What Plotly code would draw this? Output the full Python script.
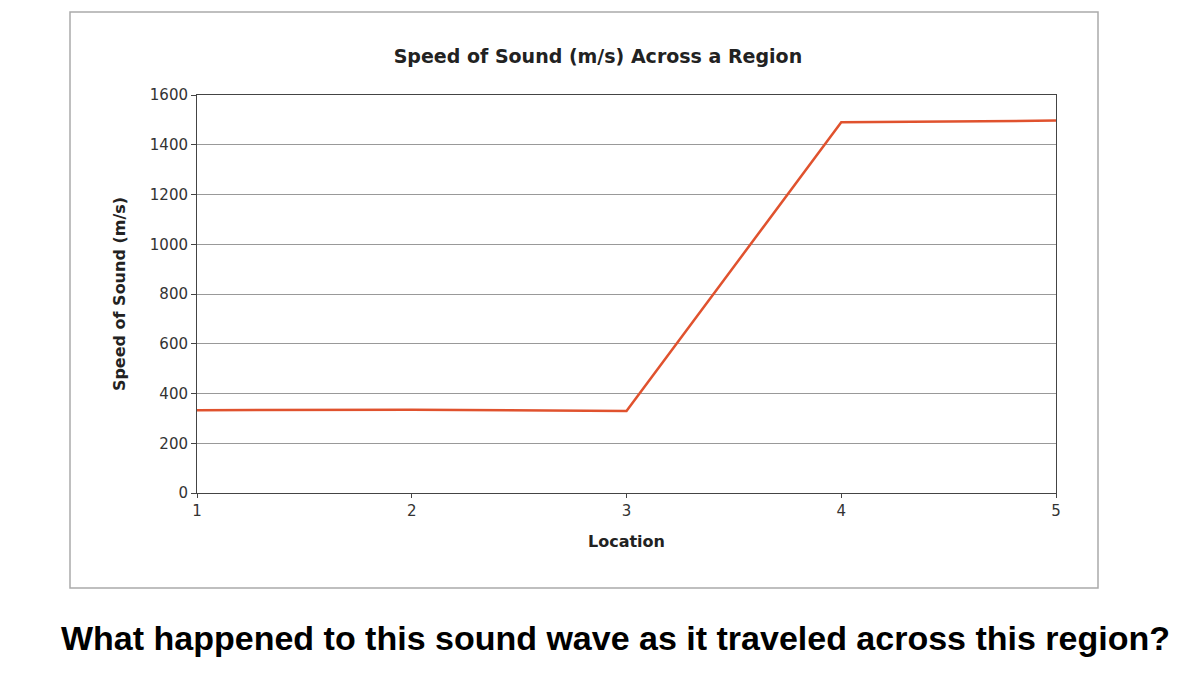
import plotly.graph_objects as go

locations = [1, 2, 3, 4, 5]
speeds = [333, 335, 330, 1490, 1497]
y_ticks = [0, 200, 400, 600, 800, 1000, 1200, 1400, 1600]

fig = go.Figure(go.Scatter(x=locations, y=speeds, mode="lines",
                           line=dict(color="#E0522E", width=2.5)))
OFF = 8
W, H = 1200 - 2 * OFF, 677 - 2 * OFF
L, R, T, B = 197 - OFF, 1056 - OFF, 95 - OFF, 493 - OFF
pw, ph = R - L, B - T
def px(x): return (x - OFF - L) / pw
def py(y): return (B - (y - OFF)) / ph

fig.update_layout(
    width=W, height=H, plot_bgcolor="white", paper_bgcolor="white",
    margin=dict(l=L, r=W - R, t=T, b=H - B),
    font=dict(family="DejaVu Sans", color="#222"),
    showlegend=False,
    title=dict(text="<b>Speed of Sound (m/s) Across a Region</b>", x=px(625), xanchor="center",
               y=1 - (56 - OFF) / H, yanchor="middle", font=dict(size=19, color="#222")),
    xaxis=dict(range=[1, 5], tickvals=locations, showgrid=False, showline=True, linecolor="#444",
               mirror=True, ticks="outside", ticklen=4, tickfont=dict(size=15, color="#333"),
               title=dict(text="<b>Location</b>", font=dict(size=16), standoff=16), zeroline=False),
    yaxis=dict(range=[0, 1600], tickvals=y_ticks, showgrid=True, gridcolor="#999", showline=True,
               linecolor="#444", mirror=True, ticks="outside", ticklen=5,
               tickfont=dict(size=15, color="#333"),
               title=dict(text="<b>Speed of Sound (m/s)</b>", font=dict(size=16), standoff=20),
               zeroline=False),
    shapes=[dict(type="rect", xref="paper", yref="paper", x0=px(70), x1=px(1098), y0=py(588), y1=py(12),
                 line=dict(color="#AAA", width=1.5), layer="below")],
    annotations=[dict(text="<b>What happened to this sound wave as it traveled across this region?</b>",
                      xref="paper", yref="paper", x=px(615), y=py(638), showarrow=False,
                      xanchor="center", yanchor="middle",
                      font=dict(family="Liberation Sans", size=34, color="black"))],
)
fig.write_html("out.html")
